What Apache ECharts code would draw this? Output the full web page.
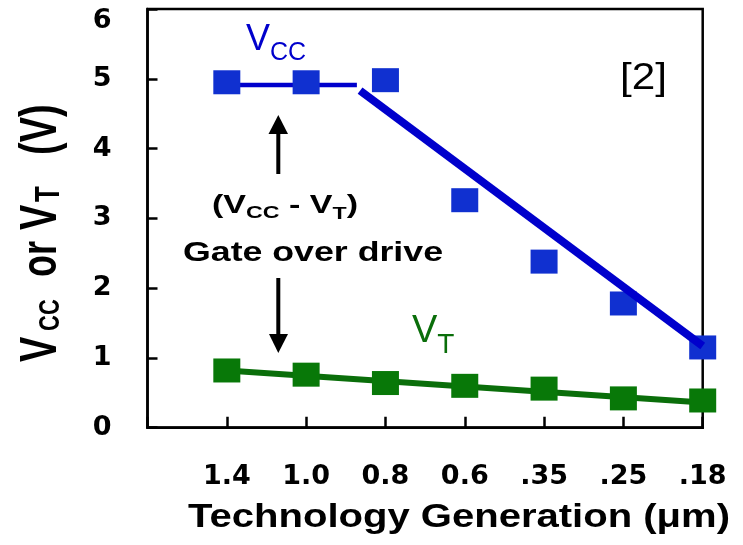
<!DOCTYPE html>
<html><head><meta charset="utf-8">
<script src="https://cdn.jsdelivr.net/npm/echarts@6/dist/echarts.min.js"></script>
<style>html,body{margin:0;padding:0;background:#fff}#c{width:743px;height:545px}</style>
</head><body><div id="c"></div>
<script>
// ---- data ----
const categories = ['1.4', '1.0', '0.8', '0.6', '.35', '.25', '.18'];
const vccValues = [4.95, 4.95, 4.98, 3.26, 2.38, 1.78, 1.15];
const vtValues = [0.82, 0.76, 0.64, 0.60, 0.56, 0.42, 0.39];
// trend lines (category position, volts)
const vccFlatX = [1, 2.64], vccFlatY = [4.91, 4.91];
const vccFitX = [2.68, 7], vccFitY = [4.83, 1.17];
const vtFitX = [1, 7], vtFitY = [0.82, 0.36];

const pts = (xs, ys) => xs.map((x, i) => [x, ys[i]]);
const catPts = vals => vals.map((v, i) => [i + 1, v]);

const BLUE_SQ = '#1030d0', BLUE_LN = '#0000cc', GREEN_SQ = '#087808', GREEN_LN = '#0a6e0a';
const SANS = 'Liberation Sans';

const ctx = document.createElement('canvas').getContext('2d');
function tw(font, t) { ctx.font = font; return ctx.measureText(t).width; }
function txt(x, y, t, font, color) {
  return { type: 'text', x: x, y: y, z: 20,
    style: { text: t, font: font, fill: color, align: 'left', verticalAlign: 'middle',
             textAlign: 'left', textVerticalAlign: 'middle' } };
}
// horizontal sequence of pieces sitting on a baseline; optional target width
function hseq(x0, base, pieces, target, color) {
  let x = 0; const children = [];
  pieces.forEach(p => {
    const [t, size, weight, dy] = p;
    const font = weight + ' ' + size + 'px "' + SANS + '"';
    children.push(txt(x, -0.35 * size + (dy || 0), t, font, color));
    x += tw(font, t);
  });
  const s = target ? target / x : 1;
  return { type: 'group', x: x0, y: base, scaleX: s, children: children };
}

const yTitlePieces = [
  [0, 'V', 38, 0], [31, 'CC', 22, 1], [85, 'or', 36, 0],
  [132, 'V', 38, 0], [160, 'T', 26, 1], [207, '(V)', 38, 0]
];
const yTitle = {
  type: 'group', x: 60, y: 362, rotation: Math.PI / 2, scaleY: 1.37,
  children: yTitlePieces.map(p => txt(p[0], -0.35 * p[2] + p[3], p[1], 'bold ' + p[2] + 'px "' + SANS + '"', '#000'))
};

const graphics = [
  yTitle,
  hseq(246, 53, [['V', 36, 'normal', 0], ['CC', 25, 'normal', 9]], null, BLUE_LN),
  hseq(412, 345, [['V', 38, 'normal', 0], ['T', 28, 'normal', 10]], null, GREEN_LN),
  hseq(620, 92, [['[2]', 37, 'normal', 0]], 47, '#000'),
  hseq(183, 263, [['Gate over drive', 28, 'bold', 0]], 260, '#000'),
  hseq(212, 215, [['(V', 25, 'bold', 0], ['CC', 17, 'bold', 4], [' - V', 25, 'bold', 0], ['T', 17, 'bold', 5], [')', 25, 'bold', 0]], 146, '#000'),
  hseq(188, 530, [['Technology Generation (\u03bcm)', 34, 'bold', 0]], 542, '#000'),
  // arrows
  { type: 'line', z: 20, shape: { x1: 278.3, y1: 174, x2: 278.3, y2: 130 }, style: { stroke: '#000', lineWidth: 4 } },
  { type: 'polygon', z: 20, shape: { points: [[278.3, 115], [268.5, 134], [288, 134]] }, style: { fill: '#000' } },
  { type: 'line', z: 20, shape: { x1: 278.3, y1: 278, x2: 278.3, y2: 338 }, style: { stroke: '#000', lineWidth: 4 } },
  { type: 'polygon', z: 20, shape: { points: [[278.3, 353], [269, 334], [288, 334]] }, style: { fill: '#000' } }
];

const labelFont = { fontFamily: 'DejaVu Sans', fontWeight: 'bold', color: '#000' };
const chart = echarts.init(document.getElementById('c'), null, { renderer: 'canvas' });
chart.setOption({
  animation: false,
  backgroundColor: '#fff',
  grid: { left: 147.5, right: 40.3, top: 9, bottom: 117.3, show: true, borderColor: '#000', borderWidth: 2.5,
          outerBoundsMode: 'none' },
  xAxis: {
    type: 'value', min: 0, max: 7, interval: 1,
    axisLine: { show: true, lineStyle: { color: '#000', width: 2.5 } },
    axisTick: { show: true, inside: true, length: 11, lineStyle: { color: '#000', width: 2.5 } },
    splitLine: { show: false },
    axisLabel: Object.assign({ fontSize: 27, margin: 36, formatter: v => categories[v - 1] || '' }, labelFont)
  },
  yAxis: {
    type: 'value', min: 0, max: 6, interval: 1,
    axisLine: { show: true, lineStyle: { color: '#000', width: 2.5 } },
    axisTick: { show: true, inside: true, length: 10, lineStyle: { color: '#000', width: 2.5 } },
    splitLine: { show: false },
    axisLabel: Object.assign({
      fontSize: 27, margin: 36,
      formatter: v => v === 6 ? '{top|6}' : String(v),
      rich: { top: Object.assign({ fontSize: 27, padding: [24, 0, 0, 0] }, labelFont) }
    }, labelFont)
  },
  graphic: graphics,
  series: [
    { type: 'line', data: pts(vtFitX, vtFitY), symbol: 'none', z: 2, silent: true,
      lineStyle: { color: GREEN_LN, width: 6 } },
    { type: 'scatter', data: catPts(vtValues), symbol: 'rect', symbolSize: [27, 24], z: 3,
      itemStyle: { color: GREEN_SQ, opacity: 1 } },
    { type: 'line', data: pts(vccFlatX, vccFlatY), symbol: 'none', z: 2, silent: true,
      lineStyle: { color: BLUE_LN, width: 4.5 } },
    { type: 'scatter', data: catPts(vccValues), symbol: 'rect', symbolSize: [27, 24], z: 3,
      itemStyle: { color: BLUE_SQ, opacity: 1 } },
    { type: 'line', data: pts(vccFitX, vccFitY), symbol: 'none', z: 4, silent: true,
      lineStyle: { color: BLUE_LN, width: 8, cap: 'butt' } }
  ]
});
</script></body></html>
